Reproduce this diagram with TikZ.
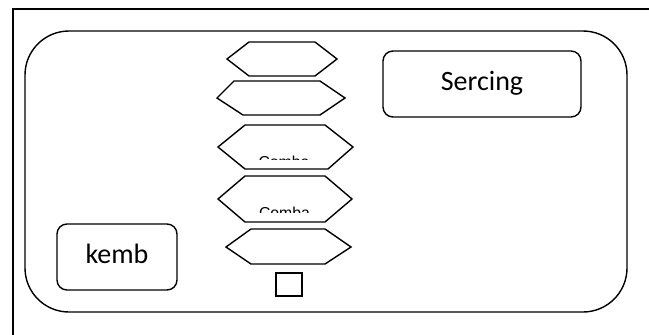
\documentclass[tikz,border=0pt]{standalone}
\usepackage{fontspec}
\setmainfont{Carlito}
\newfontfamily\labelfont{Liberation Sans}
\begin{document}
\begin{tikzpicture}[x=1pt,y=-1pt,
  outline/.style={draw=black,line width=1.4pt},
  hexa/.style={outline,line join=miter},
  roundbox/.style={outline,rounded corners=10pt,inner sep=0pt,
    font=\fontsize{28}{30}\selectfont,text height=20pt,text depth=7pt},
  smalltext/.style={inner sep=0pt,anchor=base,
    font=\labelfont\fontsize{15.8}{17}\selectfont}]
  \useasboundingbox (0,0) rectangle (649,335);
  \clip (0,0) rectangle (649,335);

  % page frame (only the top and left edges fall inside the sheet)
  \draw[outline] (13,340) -- (13,9) -- (655,9);

  % large rounded panel
  \node[outline,rounded corners=44pt,minimum width=602pt,minimum height=281pt,
    inner sep=0pt] (panel) at (326,171.5) {};

  % labelled boxes
  \node[roundbox,minimum width=198pt,minimum height=66pt] (sercing) at (482,84) {Sercing};
  \node[roundbox,minimum width=120pt,minimum height=66pt] (kemb) at (117,257) {kemb};

  % stack of hexagons
  \draw[hexa] (249,42) -- (315,42) -- (337,59) -- (315,76) -- (249,76) -- (227,59) -- cycle;
  \draw[hexa] (234,81) -- (320,81) -- (345,98) -- (320,115) -- (243,115) -- (217,98) -- cycle;
  \draw[hexa] (245,125) -- (325,125) -- (353,147) -- (328,169) -- (245,169) -- (218,147) -- cycle;
  \draw[hexa] (245,176) -- (325,176) -- (352,199) -- (325,222) -- (245,222) -- (218,199) -- cycle;
  \draw[hexa] (251,229) -- (325,229) -- (351,247) -- (325,264) -- (251,264) -- (226,247) -- cycle;

  % captions inside the hexagons, cut off below their top part
  \begin{scope}
    \clip (230,140) rectangle (340,159.5);
    \node[smalltext] (capthree) at (284,167) {Comba};
  \end{scope}
  \begin{scope}
    \clip (230,195) rectangle (340,212);
    \node[smalltext] (capfour) at (284.5,218.5) {Comba};
  \end{scope}

  % small square below the stack
  \node[outline,line width=1.3pt,minimum width=26pt,minimum height=23pt,inner sep=0pt]
    (square) at (289,284.5) {};
\end{tikzpicture}
\end{document}
